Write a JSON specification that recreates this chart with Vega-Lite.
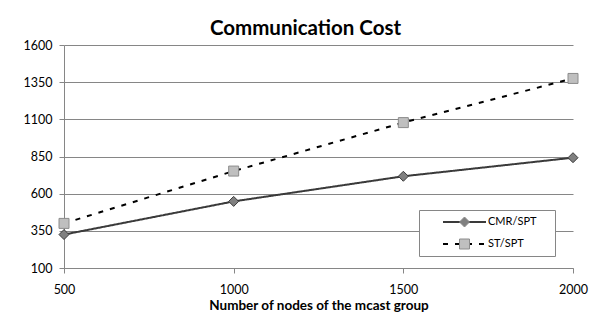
{
  "$schema": "https://vega.github.io/schema/vega-lite/v6.json",
  "width": 509,
  "height": 223,
  "autosize": "none",
  "padding": {"left": 64, "top": 45, "right": 20, "bottom": 47},
  "background": "white",
  "title": {
    "text": "Communication Cost",
    "font": "Lato",
    "fontSize": 20.5,
    "fontWeight": "bold",
    "color": "#000000",
    "anchor": "middle",
    "offset": 0,
    "dx": -13
  },
  "data": {
    "values": [
      {"series": "CMR/SPT", "nodes": 500, "cost": 325},
      {"series": "CMR/SPT", "nodes": 1000, "cost": 548},
      {"series": "CMR/SPT", "nodes": 1500, "cost": 717},
      {"series": "CMR/SPT", "nodes": 2000, "cost": 842},
      {"series": "ST/SPT", "nodes": 500, "cost": 400},
      {"series": "ST/SPT", "nodes": 1000, "cost": 752},
      {"series": "ST/SPT", "nodes": 1500, "cost": 1078},
      {"series": "ST/SPT", "nodes": 2000, "cost": 1375}
    ]
  },
  "encoding": {
    "x": {
      "field": "nodes",
      "type": "quantitative",
      "scale": {"domain": [500, 2000], "nice": false, "zero": false},
      "axis": {
        "title": "Number of nodes of the mcast group",
        "values": [500, 1000, 1500, 2000],
        "format": "d",
        "grid": false,
        "labelFlush": false,
        "tickSize": 5,
        "labelPadding": 10,
        "titlePadding": 3
      }
    },
    "y": {
      "field": "cost",
      "type": "quantitative",
      "scale": {"domain": [100, 1600], "nice": false, "zero": false},
      "axis": {
        "title": null,
        "values": [100, 350, 600, 850, 1100, 1350, 1600],
        "format": "d",
        "grid": true,
        "labelFlush": false,
        "tickSize": 5,
        "labelPadding": 7
      }
    }
  },
  "layer": [
    {
      "mark": {"type": "line", "strokeWidth": 2},
      "encoding": {
        "stroke": {
          "field": "series",
          "type": "nominal",
          "scale": {"domain": ["CMR/SPT", "ST/SPT"], "range": ["#3a3a3a", "#000000"]},
          "legend": {
            "title": "\u00a0",
            "titleOrient": "right",
            "titlePadding": 14,
            "titleFontSize": 11,
            "orient": "none",
            "legendX": 355,
            "legendY": 165,
            "padding": 5,
            "fillColor": "#ffffff",
            "strokeColor": "#868686",
            "symbolType": "stroke",
            "symbolSize": 1849,
            "symbolStrokeWidth": 2,
            "clipHeight": 14,
            "rowPadding": 8,
            "symbolOffset": 18,
            "labelOffset": 1,
            "labelFont": "Lato",
            "labelFontSize": 11,
            "labelColor": "#000000"
          }
        },
        "strokeDash": {
          "field": "series",
          "type": "nominal",
          "scale": {"domain": ["CMR/SPT", "ST/SPT"], "range": [[1, 0], [5, 7]]}
        }
      }
    },
    {
      "mark": {"type": "point", "filled": true, "opacity": 1, "strokeWidth": 1, "size": 100},
      "encoding": {
        "shape": {
          "field": "series",
          "type": "nominal",
          "scale": {"domain": ["ST/SPT", "CMR/SPT"], "range": ["square", "diamond"]},
          "legend": {
            "title": null,
            "orient": "none",
            "values": ["CMR/SPT", "ST/SPT"],
            "legendX": 355,
            "legendY": 165,
            "padding": 5,
            "symbolSize": 100,
            "symbolStrokeWidth": 1,
            "symbolOpacity": 1,
            "clipHeight": 14,
            "rowPadding": 8,
            "symbolOffset": 35,
            "labelOffset": 1,
            "labelFont": "Lato",
            "labelFontSize": 11,
            "labelExpr": "''",
            "encode": {
              "symbols": {
                "update": {
                  "stroke": {"signal": "datum.value === 'CMR/SPT' ? '#3a3a3a' : '#8c8c8c'"}
                }
              }
            }
          }
        },
        "fill": {
          "field": "series",
          "type": "nominal",
          "scale": {"domain": ["ST/SPT", "CMR/SPT"], "range": ["#bfbfbf", "#808080"]},
          "legend": {
            "title": null,
            "orient": "none",
            "values": ["CMR/SPT", "ST/SPT"],
            "legendX": 355,
            "legendY": 165
          }
        },
        "stroke": {
          "condition": {"test": "datum.series === 'CMR/SPT'", "value": "#3a3a3a"},
          "value": "#8c8c8c"
        }
      }
    }
  ],
  "config": {
    "view": {"stroke": null},
    "axis": {
      "labelFont": "Lato",
      "labelFontSize": 12.5,
      "labelColor": "#000000",
      "titleFont": "Lato",
      "titleFontSize": 13.5,
      "titleFontWeight": "bold",
      "titleColor": "#000000",
      "domainColor": "#868686",
      "tickColor": "#868686",
      "gridColor": "#868686",
      "gridWidth": 1,
      "domainWidth": 1
    }
  }
}
